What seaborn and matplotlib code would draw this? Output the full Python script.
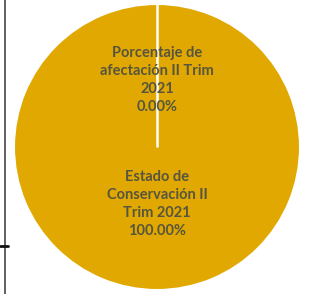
import matplotlib
matplotlib.use("Agg")
import matplotlib.pyplot as plt
from matplotlib.lines import Line2D
import numpy as np
import seaborn as sns

sns.set_theme(style="white")
plt.rcParams['font.family'] = ['Lato', 'DejaVu Sans']

# data
categorias = ["Porcentaje de\nafectación II Trim\n2021", "Estado de\nConservación II\nTrim 2021"]
valores = [0.0, 100.0]
colores = ["#E0A800", "#E0A800"]

fig = plt.figure(figsize=(3.16, 2.94), dpi=100)
ax = fig.add_axes([14 / 316, 4 / 294, 286 / 316, 286 / 294])

etiquetas = [f"{c}\n{v:.2f}%" for c, v in zip(categorias, valores)]
wedges, texts = ax.pie(valores, labels=etiquetas, colors=colores, startangle=90,
                       counterclock=False, labeldistance=0.47,
                       wedgeprops=dict(edgecolor="white", linewidth=1.5))
for t in texts:
    t.set_ha("center")
    t.set_va("center")
    t.set_fontsize(10.5)
    t.set_fontweight("bold")
    t.set_color("#57553f")
    t.set_linespacing(1.35)
# lower label sits a bit closer to the centre
texts[1].set_position((0, -0.40))

# white separator of the zero slice (full-circle wedges have no radial edge)
ang = np.deg2rad(wedges[0].theta1)
ax.plot([0, np.cos(ang)], [0, np.sin(ang)], color="white", lw=1.8, solid_capstyle="butt")

ax.set_xlim(-1, 1)
ax.set_ylim(-1, 1)

# left border of the screenshot
fig.add_artist(Line2D([5 / 316, 5 / 316], [0, 1], color="#444444", lw=1.2))
fig.add_artist(Line2D([0, 8 / 316], [48 / 294, 48 / 294], color="#111111", lw=2))

fig.savefig("out.png", dpi=100)
